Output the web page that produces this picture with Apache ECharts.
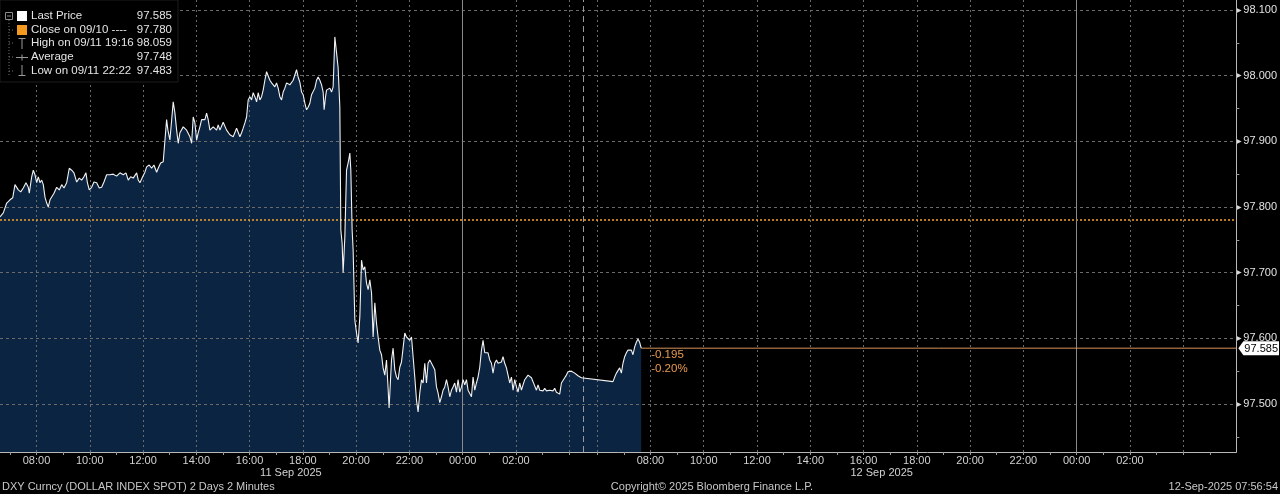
<!DOCTYPE html>
<html><head><meta charset="utf-8">
<script src="https://cdn.jsdelivr.net/npm/echarts@6/dist/echarts.min.js"></script>
<style>html,body{margin:0;padding:0;background:#000;}#c{width:1280px;height:494px;}</style>
</head><body><div id="c"></div>
<script>
// x values are session hours: day 1 clock hour as is, day 2 clock hour + DAY2_OFFSET
const DAY2_OFFSET = 23.05;
const times = [
6.630,6.754,6.882,7.006,7.107,7.193,7.257,7.317,7.407,7.505,7.606,7.692,7.730,7.820,7.880,7.944,8.008,8.068,8.131,8.195,
8.255,8.319,8.383,8.443,8.507,8.570,8.657,8.758,8.856,8.946,9.032,9.133,9.231,9.321,9.407,9.509,9.606,9.696,9.782,9.857,
9.906,9.981,10.071,10.158,10.259,10.356,10.446,10.533,10.634,10.758,10.882,11.009,11.133,11.257,11.359,11.445,11.535,11.632,11.760,11.820,
11.884,11.985,12.071,12.135,12.232,12.322,12.409,12.510,12.570,12.660,12.758,
12.885,12.934,13.009,13.133,13.197,13.261,13.321,13.385,13.508,13.636,13.760,13.824,13.884,13.947,14.011,14.071,14.135,14.199,14.323,14.386,
14.446,14.510,14.634,14.762,14.822,14.886,15.009,15.137,15.261,15.385,15.512,15.636,15.700,15.760,15.824,15.887,15.947,16.011,16.075,16.135,
16.199,16.263,16.323,16.386,16.450,16.510,16.574,16.638,16.698,16.762,16.826,16.886,16.949,17.013,17.073,17.137,17.201,17.261,17.325,17.388,
17.448,17.512,17.576,17.636,17.700,17.763,17.823,17.887,17.951,18.011,18.075,18.139,18.199,18.263,18.326,18.386,18.450,18.514,18.574,18.638,
18.702,18.762,18.799,18.852,18.889,18.949,19.013,19.077,19.137,19.201,19.264,19.324,19.388,
19.426,19.474,19.512,19.576,19.640,19.700,19.764,19.801,19.850,19.887,19.951,20.015,20.075,20.139,20.203,20.263,20.326,20.390,20.450,20.514,
20.578,20.638,20.702,20.765,20.825,20.889,20.953,21.013,21.077,21.140,21.200,21.238,21.291,
21.328,21.388,21.452,21.516,21.576,21.639,21.703,21.763,21.827,21.891,21.951,22.015,22.079,22.139,22.202,22.266,22.326,22.390,22.454,22.514,
22.578,22.641,22.701,22.765,22.829,22.889,22.953,23.016,23.076,23.140,23.204,23.264,23.328,23.392,23.452,23.516,23.579,23.639,23.703,23.767,
23.827,23.891,23.955,24.015,24.078,24.142,24.202,24.266,24.330,24.390,24.454,24.517,24.577,24.641,24.705,24.765,24.829,24.892,24.952,25.016,
25.080,25.140,25.204,25.268,25.328,25.392,25.455,25.515,25.579,25.643,25.703,
25.767,25.831,25.891,25.955,26.019,26.079,26.142,26.206,26.266,26.330,26.394,26.454,26.518,26.581,26.641,26.705,26.769,26.829,26.893,26.957,
27.017,27.080,27.144,27.204,27.268,27.332,27.392,27.456,27.519,27.579,27.643,27.707,27.767,27.831,27.894,27.955,28.018,28.082,28.142,28.206,
28.270,28.330,28.394,28.457,
29.643,29.707,29.771,29.831,29.894,29.958,30.018,30.082,30.146,30.206,30.270,30.333,30.393,30.457,30.521,30.581,30.645,30.702
];
const prices = [
97.785,97.791,97.806,97.811,97.814,97.834,97.837,97.826,97.823,97.829,97.837,97.830,97.821,97.846,97.856,97.849,97.837,97.846,97.837,97.841,
97.834,97.815,97.806,97.800,97.811,97.808,97.821,97.830,97.826,97.834,97.829,97.837,97.859,97.856,97.852,97.838,97.844,97.841,97.846,97.852,
97.838,97.826,97.830,97.838,97.837,97.829,97.830,97.838,97.849,97.849,97.850,97.847,97.852,97.849,97.852,97.841,97.846,97.844,97.852,97.841,
97.837,97.846,97.853,97.861,97.864,97.859,97.864,97.853,97.859,97.867,97.869,
97.933,97.917,97.902,97.960,97.943,97.917,97.897,97.913,97.922,97.917,97.907,97.897,97.937,97.928,97.902,97.913,97.922,97.933,97.933,97.943,
97.933,97.917,97.922,97.917,97.925,97.917,97.929,97.917,97.910,97.907,97.920,97.907,97.913,97.920,97.928,97.937,97.963,97.968,97.963,97.974,
97.968,97.960,97.974,97.963,97.968,97.978,97.993,98.006,98.009,97.993,97.989,97.990,97.983,97.989,97.981,97.968,97.963,97.975,97.981,97.989,
97.990,97.986,97.989,97.993,98.001,98.009,97.998,97.990,97.975,97.971,97.958,97.948,97.952,97.958,97.971,97.971,97.981,97.993,97.998,97.993,
97.986,97.975,97.948,97.968,97.978,97.975,97.981,97.975,97.983,98.059,98.035,98.012,97.952,
97.765,97.745,97.700,97.754,97.856,97.867,97.882,97.856,97.765,97.735,97.628,97.608,97.593,97.633,97.719,97.704,97.709,97.684,97.674,97.689,
97.669,97.602,97.654,97.623,97.602,97.582,97.575,97.555,97.544,97.567,97.524,97.494,97.537,
97.567,97.585,97.552,97.541,97.537,97.556,97.564,97.585,97.608,97.602,97.605,97.597,97.602,97.572,97.541,97.506,97.488,97.517,97.537,97.532,
97.562,97.532,97.562,97.567,97.562,97.564,97.552,97.526,97.517,97.502,97.511,97.521,97.526,97.537,97.526,97.511,97.521,97.526,97.532,97.518,
97.537,97.518,97.526,97.537,97.529,97.537,97.521,97.524,97.511,97.541,97.521,97.532,97.541,97.556,97.582,97.597,97.578,97.578,97.578,97.567,
97.562,97.547,97.562,97.567,97.562,97.562,97.564,97.572,97.562,97.555,97.552,
97.532,97.541,97.521,97.537,97.526,97.518,97.532,97.521,97.529,97.537,97.534,97.544,97.547,97.540,97.534,97.532,97.521,97.529,97.521,97.524,
97.520,97.524,97.520,97.523,97.521,97.524,97.520,97.524,97.518,97.521,97.515,97.532,97.534,97.540,97.544,97.549,97.552,97.550,97.549,97.547,
97.544,97.543,97.541,97.540,
97.534,97.541,97.547,97.549,97.555,97.547,97.562,97.572,97.578,97.582,97.579,97.582,97.575,97.587,97.594,97.599,97.594,97.585
];
const closePrice = 97.780;
const lastPrice = 97.585;
const xRange = [6.63, 53.046];
const yRange = [97.4269, 98.1152];
const labelHours = [8,10,12,14,16,18,20,22,24,26];
const gridHoursDay1 = [8,10,12,14,16,18,20,22,26,28];
const gridHoursDay2 = [6,8,10,12,14,16,18,20,22,26,28];
const tickHoursDay1 = [7,8,9,10,11,12,13,14,15,16,17,18,19,20,21,22,23,24,25,26,27,28];
const tickHoursDay2 = [6,7,8,9,10,11,12,13,14,15,16,17,18,19,20,21,22,23,24,25,26,27,28,29];
const midnightHours = [24, 24 + DAY2_OFFSET];
const sessionSeparator = 28.51;
const dateLabels = ['11 Sep 2025', '12 Sep 2025'];
const dateLabelPos = [17.55, 39.73];
const yLabelValues = [97.5, 97.6, 97.7, 97.8, 97.9, 98.0, 98.1];
const yMinorValues = [97.45, 97.55, 97.65, 97.75, 97.85, 97.95, 98.05];
const legendLabels = ['Last Price', 'Close on 09/10 ----', 'High on 09/11 19:16', 'Average', 'Low on 09/11 22:22'];
const legendValues = ['97.585', '97.780', '98.059', '97.748', '97.483'];
const footerLeft = 'DXY Curncy (DOLLAR INDEX SPOT) 2 Days 2 Minutes';
const footerMid = 'Copyright\u00A9 2025 Bloomberg Finance L.P.';
const footerRight = '12-Sep-2025 07:56:54';

const FONT = '"Liberation Sans", Arial, sans-serif';
const data = times.map((t, i) => [t, prices[i]]);
const labelPos = labelHours.concat(labelHours.map(h => h + DAY2_OFFSET));
const gridPos = gridHoursDay1.concat(gridHoursDay2.map(h => h + DAY2_OFFSET));
const tickPos = tickHoursDay1.concat(tickHoursDay2.map(h => h + DAY2_OFFSET));
const pad = n => (n < 10 ? '0' : '') + n;
function hourLabel(v) {
  const h = v < sessionSeparator ? v : v - DAY2_OFFSET;
  return pad(Math.round(h) % 24) + ':00';
}

const chart = echarts.init(document.getElementById('c'), null, {renderer: 'canvas'});
const option = {
  backgroundColor: '#000',
  animation: false,
  grid: {left: 0, right: 43, top: 0, bottom: 42, containLabel: false},
  xAxis: [
    {
      type: 'value', min: xRange[0], max: xRange[1], position: 'bottom', z: 3,
      axisLine: {show: true, lineStyle: {color: '#b8b8b8', width: 1}},
      axisTick: {show: true, customValues: tickPos, length: 3, lineStyle: {color: '#9a9a9a'}},
      axisLabel: {show: true, customValues: labelPos, formatter: hourLabel, color: '#d2d2d2',
        fontFamily: FONT, fontSize: 11, margin: 3},
      splitLine: {show: false}
    },
    {
      type: 'value', min: xRange[0], max: xRange[1], position: 'bottom', z: 3,
      axisLine: {show: false},
      axisTick: {show: false, customValues: gridPos},
      axisLabel: {show: false},
      splitLine: {show: true, lineStyle: {color: '#6a6a6a', width: 1, type: [2, 3]}}
    },
    {
      type: 'value', min: xRange[0], max: xRange[1], position: 'bottom', z: 3,
      axisLine: {show: false},
      axisTick: {show: false, customValues: dateLabelPos},
      axisLabel: {show: true, customValues: dateLabelPos, color: '#d2d2d2', fontFamily: FONT, fontSize: 11, margin: 15,
        formatter: v => { const i = dateLabelPos.findIndex(p => Math.abs(p - v) < 1e-6); return i >= 0 ? dateLabels[i] : ''; }},
      splitLine: {show: false}
    }
  ],
  yAxis: [
    {
      type: 'value', min: yRange[0], max: yRange[1], position: 'right', z: 3,
      axisLine: {show: true, lineStyle: {color: '#b8b8b8', width: 1}},
      axisTick: {show: false, customValues: yLabelValues},
      axisLabel: {show: true, customValues: yLabelValues, margin: 1,
        formatter: v => '{t|\u25B6}{v|' + v.toFixed(3) + '}',
        rich: {t: {fontSize: 6, color: '#d8d8d8', padding: [0, 1, 0, 0]},
               v: {fontSize: 11, color: '#e2e2e2', fontFamily: FONT}}},
      splitLine: {show: true, lineStyle: {color: '#6a6a6a', width: 1, type: [3, 3]}}
    },
    {
      type: 'value', min: yRange[0], max: yRange[1], position: 'right', z: 3,
      axisLine: {show: false},
      axisTick: {show: true, customValues: yMinorValues, length: 3, lineStyle: {color: '#9a9a9a'}},
      axisLabel: {show: false},
      splitLine: {show: false}
    }
  ],
  series: [
    {
      name: 'area', type: 'line', data: data, xAxisIndex: 0, yAxisIndex: 0, z: 1,
      showSymbol: false, silent: true,
      lineStyle: {width: 0, opacity: 0},
      areaStyle: {color: '#0b2442', opacity: 1}
    },
    {
      name: 'Last Price', type: 'line', data: data, xAxisIndex: 0, yAxisIndex: 0, z: 10,
      showSymbol: false, silent: true,
      lineStyle: {color: '#f2f2f2', width: 1.1},
      markLine: {
        silent: true, symbol: 'none', label: {show: false},
        data: [
          {yAxis: closePrice, lineStyle: {color: '#f5a12a', width: 1.5, type: [2, 2]}},
          {xAxis: sessionSeparator, lineStyle: {color: '#9a9a9a', width: 1, type: [6, 4]}},
          {xAxis: midnightHours[0], lineStyle: {color: '#8a8a8a', width: 1, type: 'solid'}},
          {xAxis: midnightHours[1], lineStyle: {color: '#8a8a8a', width: 1, type: 'solid'}}
        ]
      }
    },
    {
      name: 'lastLine', type: 'line', xAxisIndex: 0, yAxisIndex: 0, z: 9,
      data: [[times[times.length - 1], lastPrice], [xRange[1], lastPrice]],
      showSymbol: false, silent: true,
      lineStyle: {color: '#d8955a', width: 1}
    }
  ]
};
chart.setOption(option);

// overlays computed through the chart's own scales
const lastPx = chart.convertToPixel({gridIndex: 0}, [times[times.length - 1], lastPrice]);
const rightX = chart.convertToPixel({xAxisIndex: 0}, xRange[1]);
const change = lastPrice - closePrice;
const pct = change / closePrice * 100;
const ly = lastPx[1];
const legendY = [16, 30, 43, 57, 71];
const txt = (text, x, y, fill, align) => ({
  type: 'text', z: 101, silent: true,
  style: {text: text, x: x, y: y, fill: fill, font: '11.5px ' + FONT, textAlign: align || 'left', textVerticalAlign: 'middle'}
});
const ln = (x1, y1, x2, y2, stroke, dash) => ({
  type: 'line', z: 101, silent: true,
  shape: {x1: x1, y1: y1, x2: x2, y2: y2},
  style: {stroke: stroke, lineWidth: 1, lineDash: dash || null}
});
const g = [];
// legend panel
g.push({type: 'rect', z: 100, silent: true, shape: {x: 0, y: 0, width: 178, height: 82}, style: {fill: '#000', stroke: '#1c1c1c'}});
g.push({type: 'rect', z: 101, silent: true, shape: {x: 5.5, y: 12.5, width: 7, height: 7}, style: {fill: 'none', stroke: '#8a8a8a'}});
g.push(ln(7, 16, 11, 16, '#8a8a8a'));
g.push(ln(9, 20, 9, 76, '#707070', [1, 2]));
[30, 43, 57, 71].forEach(y => g.push(ln(9, y, 15, y, '#707070', [1, 2])));
g.push({type: 'rect', z: 101, silent: true, shape: {x: 17, y: 11, width: 10, height: 10}, style: {fill: '#ffffff'}});
g.push({type: 'rect', z: 101, silent: true, shape: {x: 17, y: 25, width: 10, height: 10}, style: {fill: '#f39a1e'}});
g.push(ln(22, 38, 22, 49, '#9a9a9a')); g.push(ln(18.5, 38.5, 25.5, 38.5, '#9a9a9a'));
g.push(ln(16, 57.5, 28, 57.5, '#9a9a9a')); g.push(ln(22, 54.5, 22, 60.5, '#9a9a9a'));
g.push(ln(22, 65, 22, 76, '#9a9a9a')); g.push(ln(18.5, 75.5, 25.5, 75.5, '#9a9a9a'));
legendLabels.forEach((s, i) => {
  g.push(txt(s, 31, legendY[i], '#e4e4e4'));
  g.push(txt(legendValues[i], 172, legendY[i], '#e4e4e4', 'right'));
});
// last price tag on the right axis
g.push({type: 'polygon', z: 101, silent: true,
  shape: {points: [[rightX + 2, ly], [rightX + 7, ly - 7], [1279, ly - 7], [1279, ly + 7], [rightX + 7, ly + 7]]},
  style: {fill: '#ffffff'}});
g.push({type: 'text', z: 102, silent: true,
  style: {text: lastPrice.toFixed(3), x: rightX + 8, y: ly + 0.5, fill: '#000', font: '11px ' + FONT, textVerticalAlign: 'middle'}});
// change labels
g.push(txt(change.toFixed(3), lastPx[0] + 10, ly + 7, '#eb9a4e'));
g.push(txt(pct.toFixed(2) + '%', lastPx[0] + 10, ly + 21, '#eb9a4e'));
// footer
const ft = (text, x, align) => ({type: 'text', z: 101, silent: true,
  style: {text: text, x: x, y: 487, fill: '#c8c8c8', font: '11px ' + FONT, textAlign: align, textVerticalAlign: 'middle'}});
g.push(ft(footerLeft, 2, 'left'));
g.push(ft(footerMid, 712, 'center'));
g.push(ft(footerRight, 1278, 'right'));
chart.setOption({graphic: {elements: g}});
</script>
</body></html>
